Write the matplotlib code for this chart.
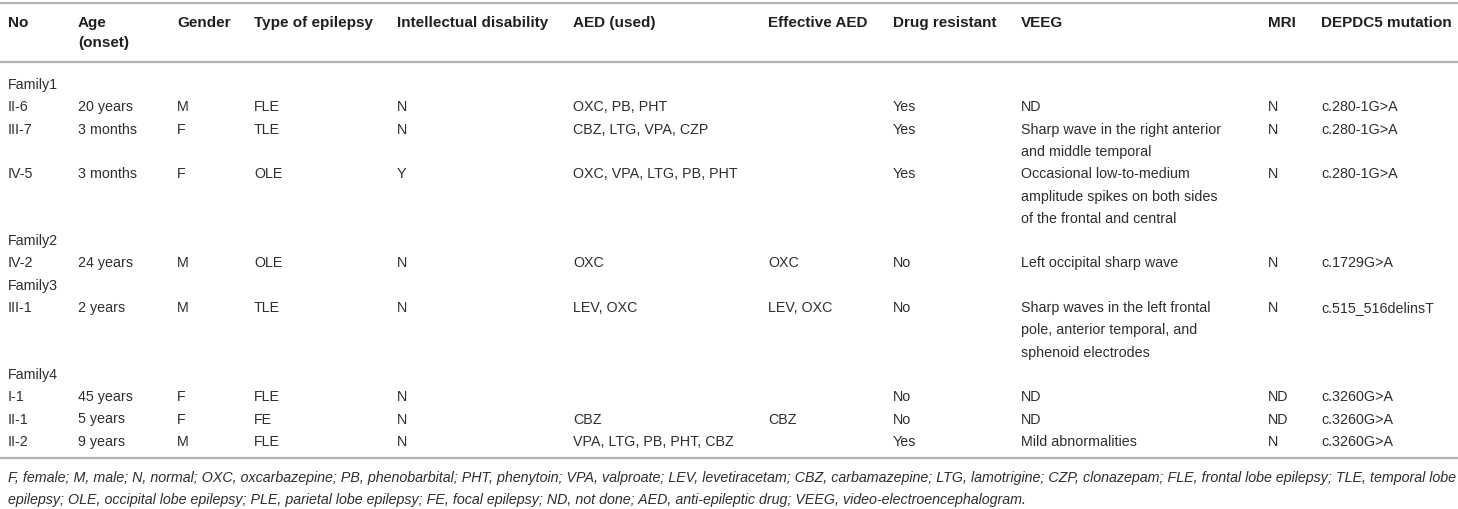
import matplotlib
matplotlib.use("Agg")
import matplotlib.pyplot as plt
from matplotlib.lines import Line2D

plt.rcParams['font.family'] = ['Liberation Sans', 'DejaVu Sans']

# ---- data ----
columns = ["No", "Age\n(onset)", "Gender", "Type of epilepsy", "Intellectual disability",
           "AED (used)", "Effective AED", "Drug resistant", "VEEG", "MRI", "DEPDC5 mutation"]
families = ["Family1", "Family2", "Family3", "Family4"]
family_of = [0, 0, 0, 1, 2, 3, 3, 3]
patient_no = ["II-6", "III-7", "IV-5", "IV-2", "III-1", "I-1", "II-1", "II-2"]
age_onset = ["20 years", "3 months", "3 months", "24 years", "2 years", "45 years", "5 years", "9 years"]
gender = ["M", "F", "F", "M", "M", "F", "F", "M"]
epilepsy_type = ["FLE", "TLE", "OLE", "OLE", "TLE", "FLE", "FE", "FLE"]
intellectual = ["N", "N", "Y", "N", "N", "N", "N", "N"]
aed_used = ["OXC, PB, PHT", "CBZ, LTG, VPA, CZP", "OXC, VPA, LTG, PB, PHT", "OXC", "LEV, OXC",
            "", "CBZ", "VPA, LTG, PB, PHT, CBZ"]
effective_aed = ["", "", "", "OXC", "LEV, OXC", "", "CBZ", ""]
drug_resistant = ["Yes", "Yes", "Yes", "No", "No", "No", "No", "Yes"]
veeg = ["ND",
        "Sharp wave in the right anterior\nand middle temporal",
        "Occasional low-to-medium\namplitude spikes on both sides\nof the frontal and central",
        "Left occipital sharp wave",
        "Sharp waves in the left frontal\npole, anterior temporal, and\nsphenoid electrodes",
        "ND", "ND", "Mild abnormalities"]
mri = ["N", "N", "N", "N", "N", "ND", "ND", "N"]
mutation = ["c.280-1G>A", "c.280-1G>A", "c.280-1G>A", "c.1729G>A", "c.515_516delinsT",
            "c.3260G>A", "c.3260G>A", "c.3260G>A"]
footnote = ["F, female; M, male; N, normal; OXC, oxcarbazepine; PB, phenobarbital; PHT, phenytoin; VPA, valproate; LEV, levetiracetam; CBZ, carbamazepine; LTG, lamotrigine; CZP, clonazepam; FLE, frontal lobe epilepsy; TLE, temporal lobe",
            "epilepsy; OLE, occipital lobe epilepsy; PLE, parietal lobe epilepsy; FE, focal epilepsy; ND, not done; AED, anti-epileptic drug; VEEG, video-electroencephalogram."]

# ---- layout (pixels) ----
W, H = 1458, 509
col_x = [8, 78, 177, 254, 397, 573, 768, 893, 1021, 1268, 1321]
pitch = 22.3
first_row_y = 85
header_y = 23
header_pitch = 20
top_line_y = 3
header_line_y = 62
head_color = "#231f20"
text_color = "#2e2e2e"
line_color = "#b3b3b3"
body_fs = 10.3
head_fs = 11.0
foot_fs = 10.22

fig = plt.figure(figsize=(W / 100, H / 100), dpi=100)
fig.patch.set_facecolor("white")

def fx(x):
    return x / W

def fy(y):
    return 1 - y / H

def put(x, y, s, fs, color=text_color, **kw):
    fig.text(fx(x), fy(y), s, ha="left", va="center", color=color, fontsize=fs, **kw)

# header
for cx, name in zip(col_x, columns):
    for i, part in enumerate(name.split("\n")):
        put(cx, header_y + i * header_pitch, part, head_fs, color=head_color, fontweight="bold")

# body
table_cols = [patient_no, age_onset, gender, epilepsy_type, intellectual, aed_used,
              effective_aed, drug_resistant, veeg, mri, mutation]
y = first_row_y
prev_fam = -1
for r in range(len(patient_no)):
    if family_of[r] != prev_fam:
        put(col_x[0], y, families[family_of[r]], body_fs)
        y += pitch
        prev_fam = family_of[r]
    nlines = 1
    for cx, col in zip(col_x, table_cols):
        parts = col[r].split("\n") if col[r] else []
        for i, part in enumerate(parts):
            put(cx, y + i * pitch, part, body_fs)
        nlines = max(nlines, len(parts))
    y += nlines * pitch

last_row_y = y - pitch
bottom_line_y = last_row_y + 16
for ly in (top_line_y, header_line_y, bottom_line_y):
    fig.add_artist(Line2D([0, 1], [fy(ly), fy(ly)], color=line_color, lw=1.6,
                          transform=fig.transFigure))

for i, fl in enumerate(footnote):
    put(col_x[0], bottom_line_y + 20 + i * 22.5, fl, foot_fs, fontstyle="italic")

fig.savefig("out.png", dpi=100, facecolor="white")
